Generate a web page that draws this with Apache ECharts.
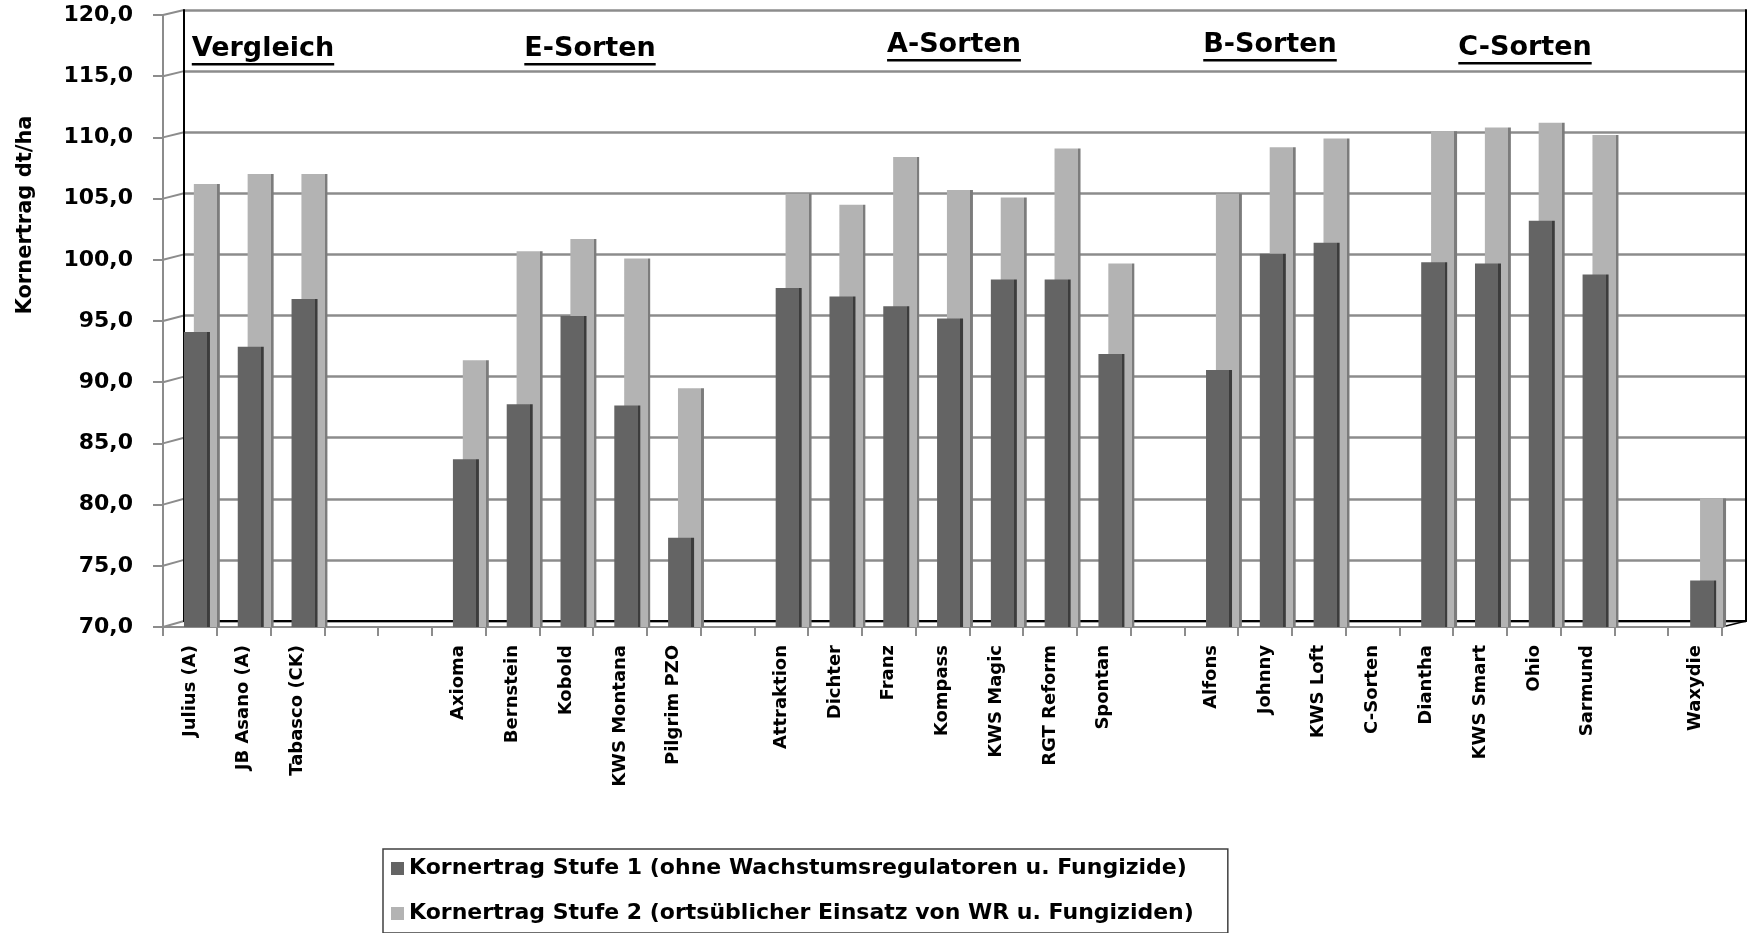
<!DOCTYPE html>
<html>
<head>
<meta charset="utf-8">
<script src="https://cdn.jsdelivr.net/npm/echarts@6/dist/echarts.min.js"></script>
<style>
html,body{margin:0;padding:0;background:#fff;}
#chart{width:1752px;height:933px;}
</style>
</head>
<body>
<div id="chart"></div>
<script>
const categories = ['Julius (A)','JB Asano (A)','Tabasco (CK)',' ','  ','Axioma','Bernstein','Kobold','KWS Montana','Pilgrim PZO','   ','Attraktion','Dichter','Franz','Kompass','KWS Magic','RGT Reform','Spontan','    ','Alfons','Johnny','KWS Loft','C-Sorten','Diantha','KWS Smart','Ohio','Sarmund','     ','Waxydie'];
const stufe1 = [94.1, 92.9, 96.8, null, null, 83.7, 88.2, 95.4, 88.1, 77.3, null, 97.7, 97.0, 96.2, 95.2, 98.4, 98.4, 92.3, null, 91.0, 100.5, 101.4, null, 99.8, 99.7, 103.2, 98.8, null, 73.8];
const stufe2 = [106.2, 107.0, 107.0, null, null, 91.8, 100.7, 101.7, 100.1, 89.5, null, 105.4, 104.5, 108.4, 105.7, 105.1, 109.1, 99.7, null, 105.4, 109.2, 109.9, null, 110.5, 110.8, 111.2, 110.2, null, 80.5];
const seriesNames = ['Kornertrag Stufe 1 (ohne Wachstumsregulatoren u. Fungizide)','Kornertrag Stufe 2 (ortsüblicher Einsatz von WR u. Fungiziden)'];
const groupHeaders = ['Vergleich','E-Sorten','A-Sorten','B-Sorten','C-Sorten'];
const yTicks = [70,75,80,85,90,95,100,105,110,115,120];
const yTitle = 'Kornertrag dt/ha';

const FONT = 'DejaVu Sans';
const chart = echarts.init(document.getElementById('chart'), null, {renderer:'canvas'});

function shade(main, side){
  return new echarts.graphic.LinearGradient(0,0,1,0,[
    {offset:0,color:main},{offset:0.9,color:main},{offset:0.9,color:side},{offset:1,color:side}]);
}

const option = {
  backgroundColor:'#fff',
  animation:false,
  grid:[
    {left:184, right:6, top:10, bottom:312},      // back wall
    {left:163, right:30, top:15, bottom:306},     // front axes
    {left:175, right:17, top:15, bottom:306}      // bars
  ],
  xAxis:[
    {gridIndex:0, type:'category', data:categories, show:true,
     axisLine:{show:true, lineStyle:{color:'#000', width:2}}, axisTick:{show:false}, axisLabel:{show:false}, splitLine:{show:false}},
    {gridIndex:1, type:'category', data:categories,
     axisLine:{show:true, lineStyle:{color:'#8c8c8c', width:2}},
     axisTick:{show:true, length:9, lineStyle:{color:'#8c8c8c', width:2}},
     axisLabel:{interval:0, rotate:90, margin:18, color:'#000', fontFamily:FONT, fontWeight:'bold', fontSize:18}},
    {gridIndex:2, type:'category', data:categories, show:false}
  ],
  yAxis:[
    {gridIndex:0, type:'value', min:70, max:120, interval:5,
     axisLine:{show:true, lineStyle:{color:'#000', width:2}}, axisTick:{show:false}, axisLabel:{show:false},
     splitLine:{show:true, lineStyle:{color:'#8c8c8c', width:2.5}}},
    {gridIndex:0, type:'value', min:70, max:120, interval:5, position:'right',
     axisLine:{show:true, lineStyle:{color:'#000', width:2}}, axisTick:{show:false}, axisLabel:{show:false}, splitLine:{show:false}},
    {gridIndex:1, type:'value', min:70, max:120, interval:5,
     axisLine:{show:true, lineStyle:{color:'#8c8c8c', width:2}},
     axisTick:{show:true, length:10, lineStyle:{color:'#8c8c8c', width:2}},
     splitLine:{show:false},
     axisLabel:{margin:30, color:'#000', fontFamily:FONT, fontWeight:'bold', fontSize:22,
       formatter:function(v){return v.toFixed(1).replace('.',',');}}},
    {gridIndex:2, type:'value', min:70, max:120, interval:5, show:false}
  ],
  legend:{
    orient:'vertical', left:383, top:849,
    borderColor:'#404040', borderWidth:1.5, padding:[7,34,7,8],
    itemWidth:13, itemHeight:13, itemGap:20, icon:'rect',
    textStyle:{color:'#000', fontFamily:FONT, fontWeight:'bold', fontSize:22, lineHeight:25},
    data:[{name:seriesNames[0], itemStyle:{color:'#646464'}},{name:seriesNames[1], itemStyle:{color:'#b3b3b3'}}]
  },
  series:[
    {name:seriesNames[0], type:'bar', xAxisIndex:2, yAxisIndex:3, data:stufe1, z:4,
     barWidth:26, barGap:'-62%', itemStyle:{color:shade('#646464','#3c3c3c')}},
    {name:seriesNames[1], type:'bar', xAxisIndex:2, yAxisIndex:3, data:stufe2, z:3,
     barWidth:26, barGap:'-62%', itemStyle:{color:shade('#b3b3b3','#7c7c7c')}}
  ]
};
chart.setOption(option);

// decorative 3D connectors, axis title and group headers
const gBack = chart.getModel().getComponent('grid',0).coordinateSystem.getRect();
const gFront = chart.getModel().getComponent('grid',1).coordinateSystem.getRect();
const graphics = [];
yTicks.forEach(function(v){
  const yf = chart.convertToPixel({yAxisIndex:2}, v);
  const yb = chart.convertToPixel({yAxisIndex:0}, v);
  graphics.push({type:'line', silent:true, shape:{x1:gFront.x, y1:yf, x2:gBack.x, y2:yb},
    style:{stroke:'#8c8c8c', lineWidth:2}});
});
const yf0 = chart.convertToPixel({yAxisIndex:2}, 70);
const yb0 = chart.convertToPixel({yAxisIndex:0}, 70);
graphics.push({type:'line', silent:true, shape:{x1:gFront.x+gFront.width, y1:yf0, x2:gBack.x+gBack.width, y2:yb0},
  style:{stroke:'#000', lineWidth:1.5}});

graphics.push({type:'text', silent:true, x:26, y:215, rotation:Math.PI/2,
  style:{text:yTitle, font:'bold 21px "' + FONT + '"', fill:'#000', textAlign:'center', textVerticalAlign:'middle'}});

const headerX = [263, 590, 954, 1270, 1525];
const headerBase = [62, 62, 58, 58, 61];
const ctx = document.createElement('canvas').getContext('2d');
const hFont = 'bold 27px "' + FONT + '"';
ctx.font = hFont;
groupHeaders.forEach(function(t, i){
  const w = ctx.measureText(t).width;
  graphics.push({type:'text', silent:true, x:headerX[i], y:headerBase[i],
    style:{text:t, font:hFont, fill:'#000', textAlign:'center', textVerticalAlign:'bottom'}});
  graphics.push({type:'rect', silent:true, shape:{x:headerX[i]-w/2, y:headerBase[i]+1, width:w, height:2.5},
    style:{fill:'#000'}});
});
chart.setOption({graphic:graphics});
</script>
</body>
</html>
